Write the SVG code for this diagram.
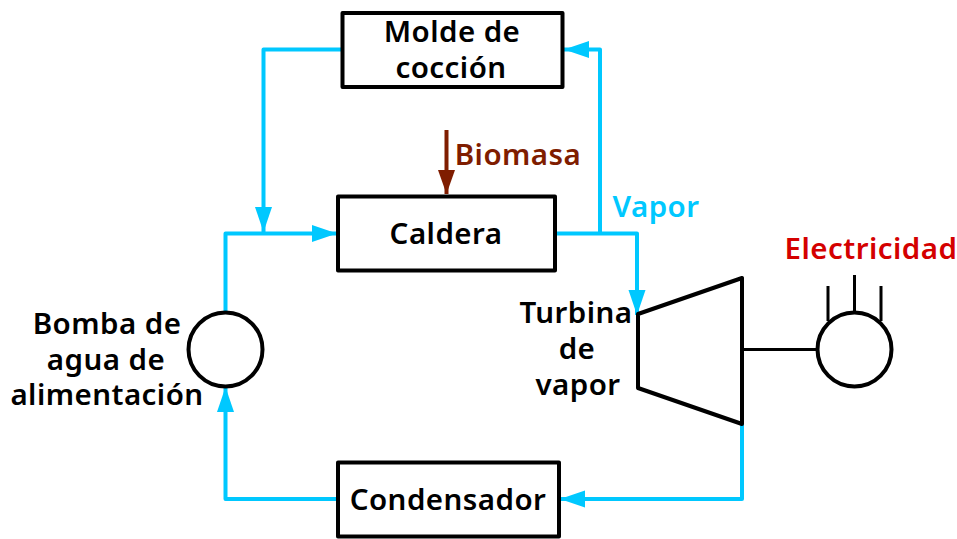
<svg xmlns="http://www.w3.org/2000/svg" width="957" height="539" viewBox="0 0 957 539">
<style>
.box{fill:#fff;stroke:#000;stroke-width:4;stroke-linejoin:round}
.t{font-family:"Noto Sans","Open Sans",sans-serif;font-weight:600;font-size:29.5px;letter-spacing:.45px;fill:#000;text-anchor:middle}
.c{fill:none;stroke:#00c8ff;stroke-width:4;stroke-linejoin:round}
.k{fill:none;stroke:#000;stroke-width:4;stroke-linejoin:round}
.s{fill:none;stroke:#000;stroke-width:3}
</style>
<defs>
<marker id="a" markerUnits="userSpaceOnUse" markerWidth="26" markerHeight="18" refX="25" refY="9" orient="auto"><path d="M0 0.500L25 9L0 17.500Z" fill="#00c8ff"/></marker>
<marker id="b" markerUnits="userSpaceOnUse" markerWidth="25" markerHeight="18" refX="24" refY="9" orient="auto"><path d="M0 0.500L24 9L0 17.500Z" fill="#7f1d00"/></marker>
</defs>
<g id="connectors">
<path class="c" d="M342 49.500H263.500V232" marker-end="url(#a)"/>
<path class="c" d="M225.500 311V233.500H337" marker-end="url(#a)"/>
<path class="c" d="M555 233.500H637V315" marker-end="url(#a)"/>
<path class="c" d="M600 233.500V49.500H564" marker-end="url(#a)"/>
<path class="c" d="M742 424V499H560" marker-end="url(#a)"/>
<path class="c" d="M337 499H225.500V387" marker-end="url(#a)"/>
<path d="M446.500 130V194" fill="none" stroke="#7f1d00" stroke-width="4" marker-end="url(#b)"/>
<path class="s" d="M743 349.500H817"/>
</g>
<g id="molde"><rect class="box" x="342.500" y="13" width="220" height="74"/><text class="t" x="452" y="42">Molde de</text><text class="t" x="451" y="78">cocción</text></g>
<g id="caldera"><rect class="box" x="338" y="196.500" width="217" height="74"/><text class="t" x="446" y="244">Caldera</text></g>
<g id="condensador"><rect class="box" x="338" y="462.500" width="221" height="74"/><text class="t" x="448" y="510">Condensador</text></g>
<g id="bomba"><circle class="k" cx="225.500" cy="349.500" r="37"/><text class="t" x="107" y="334">Bomba de</text><text class="t" x="106" y="370">agua de</text><text class="t" x="107" y="405">alimentación</text></g>
<g id="turbina"><path class="k" d="M638 314L742 278V424L638 388Z"/><text class="t" x="576" y="323">Turbina</text><text class="t" x="577" y="359">de</text><text class="t" x="578" y="395">vapor</text></g>
<g id="generador"><circle class="k" cx="854.500" cy="349.500" r="37"/><path class="s" d="M828 286V321M854.500 275V312M881 286V321"/><text class="t" x="871" y="259" style="fill:#d40000">Electricidad</text></g>
<g id="biomasa"><text class="t" x="518" y="165" style="fill:#7f1d00">Biomasa</text></g>
<g id="vapor"><text class="t" x="656" y="217" style="fill:#00c8ff">Vapor</text></g>
</svg>
